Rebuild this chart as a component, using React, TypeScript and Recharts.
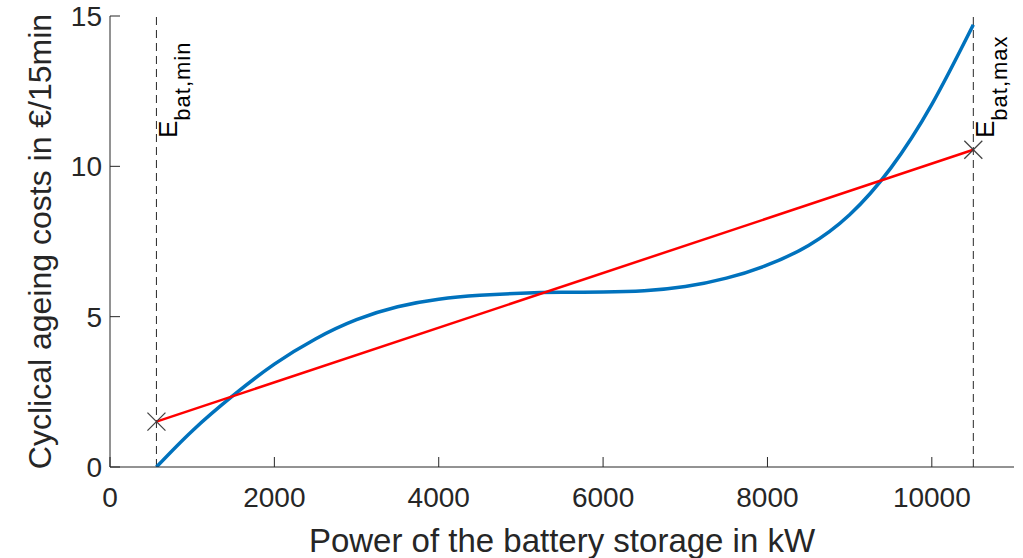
import React from 'react';
import { ComposedChart, Line, XAxis, YAxis, ReferenceLine } from 'recharts';

// cyclical ageing cost curve (kW -> €/15min)
const powerKw = [565, 1000, 1500, 2000, 2500, 3000, 3500, 4000, 4500, 5000, 5500, 6000, 6500, 7000, 7500, 8000, 8500, 9000, 9500, 10000, 10505];
const ageingCost = [0, 1.2, 2.38, 3.42, 4.26, 4.9, 5.33, 5.58, 5.71, 5.78, 5.81, 5.82, 5.86, 6.0, 6.28, 6.72, 7.37, 8.39, 9.94, 12.06, 14.71];

// linear approximation between the two storage limits
const linearPowerKw = [565, 10505];
const linearCost = [1.51, 10.55];

const E_BAT_MIN = 565;
const E_BAT_MAX = 10505;

const xTicks = [0, 2000, 4000, 6000, 8000, 10000];
const yTicks = [0, 5, 10, 15];

const curveData = powerKw.map((x, i) => ({ x, cost: ageingCost[i] }));
const linearData = linearPowerKw.map((x, i) => ({ x, cost: linearCost[i] }));

const FONT = '"Liberation Sans", Arial, Helvetica, sans-serif';
const AXIS_COLOR = '#262626';

const CrossDot = (props: any) => {
    const { cx, cy } = props;
    if (cx == null || cy == null) return null;
    const r = 9;
    return (
        <g stroke="#404040" strokeWidth={1.2}>
            <line x1={cx - r} y1={cy - r} x2={cx + r} y2={cy + r} />
            <line x1={cx - r} y1={cy + r} x2={cx + r} y2={cy - r} />
        </g>
    );
};

// rotated "E_bat,..." tag next to a dashed limit line
const LimitLabel = (props: any) => {
    const { viewBox, sub } = props;
    if (!viewBox) return null;
    const x = viewBox.x + 21;
    const y = viewBox.y + 122;
    return (
        <text transform={`translate(${x},${y}) rotate(-90)`} fill="#000" fontFamily={FONT}>
            <tspan fontSize={26}>E</tspan>
            <tspan fontSize={22} dy={13} letterSpacing={1}>{sub}</tspan>
        </text>
    );
};

export default function App() {
    return (
        <div style={{ position: 'absolute', left: 0, top: 0, width: 1023, height: 558, background: '#fff' }}>
            <ComposedChart width={1023} height={558} margin={{ top: 16, right: 9, bottom: 0, left: 0 }}>
                <XAxis
                    xAxisId="bottom"
                    dataKey="x"
                    type="number"
                    domain={[0, 11000]}
                    ticks={xTicks}
                    height={91}
                    tickSize={-10}
                    tickMargin={30}
                    stroke={AXIS_COLOR}
                    tick={{ fill: AXIS_COLOR, fontSize: 28, fontFamily: FONT }}
                    allowDataOverflow
                    label={{ value: 'Power of the battery storage in kW', position: 'insideBottom', offset: 6, fill: AXIS_COLOR, fontSize: 33, fontFamily: FONT }}
                />
                <XAxis
                    xAxisId="top"
                    orientation="top"
                    dataKey="x"
                    type="number"
                    domain={[0, 11000]}
                    ticks={xTicks}
                    height={0}
                    tickSize={-10}
                    tick={false}
                    stroke={AXIS_COLOR}
                    allowDataOverflow
                />
                <YAxis
                    yAxisId="left"
                    type="number"
                    domain={[0, 15]}
                    ticks={yTicks}
                    width={110}
                    tickSize={-10}
                    tickMargin={18}
                    stroke={AXIS_COLOR}
                    tick={{ fill: AXIS_COLOR, fontSize: 28, fontFamily: FONT }}
                    allowDataOverflow
                    label={{ value: 'Cyclical ageing costs in €/15min', angle: -90, position: 'insideLeft', offset: 40, fill: AXIS_COLOR, fontSize: 32, fontFamily: FONT, style: { textAnchor: 'middle' } }}
                />
                <YAxis
                    yAxisId="right"
                    orientation="right"
                    type="number"
                    domain={[0, 15]}
                    ticks={yTicks}
                    width={0}
                    tickSize={-10}
                    tick={false}
                    stroke={AXIS_COLOR}
                    allowDataOverflow
                />
                <ReferenceLine
                    xAxisId="bottom"
                    yAxisId="left"
                    x={E_BAT_MIN}
                    stroke={AXIS_COLOR}
                    strokeWidth={1}
                    strokeDasharray="8 5"
                    label={<LimitLabel sub="bat,min" />}
                />
                <ReferenceLine
                    xAxisId="bottom"
                    yAxisId="left"
                    x={E_BAT_MAX}
                    stroke={AXIS_COLOR}
                    strokeWidth={1}
                    strokeDasharray="8 5"
                    label={<LimitLabel sub="bat,max" />}
                />
                <Line
                    xAxisId="bottom"
                    yAxisId="left"
                    data={curveData}
                    dataKey="cost"
                    type="natural"
                    stroke="#0072BD"
                    strokeWidth={3.5}
                    dot={false}
                    activeDot={false}
                    isAnimationActive={false}
                />
                <Line
                    xAxisId="bottom"
                    yAxisId="left"
                    data={linearData}
                    dataKey="cost"
                    type="linear"
                    stroke="#FF0000"
                    strokeWidth={2.5}
                    dot={<CrossDot />}
                    activeDot={false}
                    isAnimationActive={false}
                />
            </ComposedChart>
        </div>
    );
}
